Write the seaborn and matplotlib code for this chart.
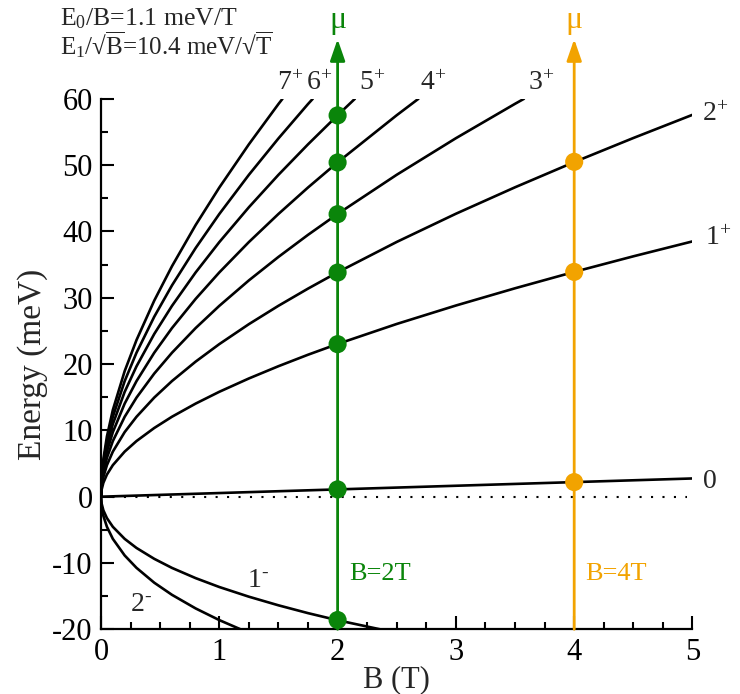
import numpy as np
import pandas as pd
import matplotlib
matplotlib.use("Agg")
import matplotlib.pyplot as plt
import seaborn as sns

# Landau levels (B in T, E in meV)
B_0 = [0, 1, 2, 3, 4, 5]
E_0 = [0, 0.55, 1.1, 1.65, 2.2, 2.75]

B_1p = [0, 0.005, 0.02, 0.05, 0.1, 0.2, 0.3, 0.45, 0.6, 0.8, 1.0, 1.25, 1.5, 1.75, 2.0, 2.5, 3.0, 3.5, 4.0, 4.5, 5.0]
E_1p = [0, 1.05, 2.10, 3.34, 4.76, 6.80, 8.39, 10.36, 12.06, 14.04, 15.82, 17.83, 19.68, 21.41, 23.03, 26.05, 28.83, 31.43, 33.90, 36.25, 38.50]

B_2p = [0, 0.005, 0.02, 0.05, 0.1, 0.2, 0.3, 0.45, 0.6, 0.8, 1.0, 1.25, 1.5, 1.75, 2.0, 2.5, 3.0, 3.5, 4.0, 4.5, 5.0]
E_2p = [0, 1.48, 2.99, 4.76, 6.80, 9.74, 12.05, 14.95, 17.44, 20.37, 23.01, 26.02, 28.79, 31.38, 33.84, 38.42, 42.67, 46.66, 50.46, 54.09, 57.59]

B_3p = [0, 0.005, 0.02, 0.05, 0.1, 0.2, 0.3, 0.45, 0.6, 0.8, 1.0, 1.25, 1.5, 1.75, 2.0, 2.5, 3.0, 3.5, 3.575]
E_3p = [0, 1.82, 3.67, 5.86, 8.39, 12.05, 14.94, 18.57, 21.71, 25.43, 28.78, 32.62, 36.16, 39.49, 42.64, 48.55, 54.06, 59.25, 60.0]

B_4p = [0, 0.005, 0.02, 0.05, 0.1, 0.2, 0.3, 0.45, 0.6, 0.8, 1.0, 1.25, 1.5, 1.75, 2.0, 2.5, 2.683]
E_4p = [0, 2.10, 4.25, 6.80, 9.74, 14.04, 17.43, 21.71, 25.43, 29.83, 33.82, 38.40, 42.64, 46.63, 50.42, 57.53, 60.0]

B_5p = [0, 0.005, 0.02, 0.05, 0.1, 0.2, 0.3, 0.45, 0.6, 0.8, 1.0, 1.25, 1.5, 1.75, 2.0, 2.146]
E_5p = [0, 2.35, 4.76, 7.63, 10.95, 15.81, 19.66, 24.54, 28.78, 33.82, 38.39, 43.65, 48.54, 53.14, 57.52, 60.0]

B_6p = [0, 0.005, 0.02, 0.05, 0.1, 0.2, 0.3, 0.45, 0.6, 0.8, 1.0, 1.25, 1.5, 1.75, 1.79]
E_6p = [0, 2.58, 5.23, 8.39, 12.05, 17.43, 21.71, 27.14, 31.87, 37.50, 42.63, 48.54, 54.03, 59.22, 60.0]

B_7p = [0, 0.005, 0.02, 0.05, 0.1, 0.2, 0.3, 0.45, 0.6, 0.8, 1.0, 1.25, 1.5, 1.534]
E_7p = [0, 2.79, 5.66, 9.09, 13.08, 18.94, 23.62, 29.57, 34.76, 40.97, 46.62, 53.14, 59.22, 60.0]

B_1m = [0, 0.005, 0.02, 0.05, 0.1, 0.2, 0.3, 0.45, 0.6, 0.8, 1.0, 1.25, 1.5, 1.75, 2.0, 2.36]
E_1m = [0, -1.03, -2.06, -3.23, -4.54, -6.36, -7.73, -9.37, -10.74, -12.28, -13.62, -15.08, -16.38, -17.56, -18.63, -20.0]

B_2m = [0, 0.005, 0.02, 0.05, 0.1, 0.2, 0.3, 0.45, 0.6, 0.8, 1.0, 1.18]
E_2m = [0, -1.46, -2.90, -4.54, -6.36, -8.86, -10.73, -12.97, -14.80, -16.85, -18.61, -20.0]

# occupied levels at the two fields
mu_B2_E = [1.1, 23.0, 33.8, 42.6, 50.4, 57.5, -18.6]
mu_B4_E = [2.2, 33.9, 50.5]

GREEN = "#0a850a"
ORANGE = "#f2a300"

curves = {
    "0": (B_0, E_0), "1+": (B_1p, E_1p), "2+": (B_2p, E_2p), "3+": (B_3p, E_3p),
    "4+": (B_4p, E_4p), "5+": (B_5p, E_5p), "6+": (B_6p, E_6p), "7+": (B_7p, E_7p),
    "1-": (B_1m, E_1m), "2-": (B_2m, E_2m),
}
df = pd.concat([pd.DataFrame({"B": b, "E": e, "level": name}) for name, (b, e) in curves.items()],
               ignore_index=True)

sns.set_style("ticks")
plt.rcParams["font.family"] = ["Liberation Serif", "DejaVu Serif"]
plt.rcParams["mathtext.fontset"] = "custom"
plt.rcParams["mathtext.rm"] = "Liberation Serif"
plt.rcParams["mathtext.it"] = "Liberation Serif:italic"
plt.rcParams["mathtext.bf"] = "Liberation Serif:bold"
plt.rcParams["mathtext.fallback"] = "stix"
plt.rcParams["axes.unicode_minus"] = False

fig = plt.figure(figsize=(7.4, 6.94), dpi=100)
ax = fig.add_axes([0.1365, 0.0932, 0.7993, 0.7644])

sns.lineplot(data=df, x="B", y="E", units="level", estimator=None, color="black",
             linewidth=1.9, sort=False, ax=ax, zorder=2)

# E = 0 reference
ax.plot([0, 4.95], [0, 0], color="black", linestyle=(0, (1, 4.5)), linewidth=1.5, zorder=1)

# chemical potential arrows
for b0, col in [(2, GREEN), (4, ORANGE)]:
    ax.annotate("", xy=(b0, 69.0), xytext=(b0, -20),
                arrowprops=dict(arrowstyle="-|>,head_length=1.3,head_width=0.45",
                                color=col, lw=2.0, shrinkA=0, shrinkB=0),
                annotation_clip=False, zorder=3)
    ax.text(b0, 69.6, "μ", color=col, fontsize=23, ha="center", va="bottom", clip_on=False)

sns.scatterplot(x=[2] * len(mu_B2_E), y=mu_B2_E, color=GREEN, s=170, edgecolor="none",
                ax=ax, zorder=4, clip_on=False)
sns.scatterplot(x=[4] * len(mu_B4_E), y=mu_B4_E, color=ORANGE, s=170, edgecolor="none",
                ax=ax, zorder=4, clip_on=False)

ax.text(2.096, -12.6, "B=2T", color=GREEN, fontsize=19, ha="left", va="baseline")
ax.text(4.09, -12.6, "B=4T", color=ORANGE, fontsize=19, ha="left", va="baseline")

# level labels
labels = [
    (1.488, 61.4, r"7$^{+}$"), (1.733, 61.4, r"6$^{+}$"), (2.18, 61.4, r"5$^{+}$"),
    (2.70, 61.4, r"4$^{+}$"), (3.61, 61.4, r"3$^{+}$"), (5.08, 56.7, r"2$^{+}$"),
    (5.105, 38.0, r"1$^{+}$"), (5.09, 1.3, "0"), (1.234, -13.6, r"1$^{\text{-}}$"),
    (0.245, -17.3, r"2$^{\text{-}}$"),
]
for x, y, t in labels:
    ax.text(x, y, t, fontsize=20, ha="left", va="baseline", clip_on=False)

fig.text(60 / 740, 1 - 25 / 694, r"E$_0$/B=1.1 meV/T", fontsize=18.5, ha="left", va="baseline")
fig.text(60 / 740, 1 - 54 / 694,
         r"E$_1$/$√\overline{\mathrm{B}}$=10.4 meV/$√\overline{\mathrm{T}}$",
         fontsize=18, ha="left", va="baseline")

ax.set_xlim(0, 5)
ax.set_ylim(-20, 60)
ax.set_xticks(np.arange(0, 6, 1))
ax.set_xticks(np.arange(0, 5.01, 0.25), minor=True)
ax.set_yticks(np.arange(-20, 61, 10))
ax.set_yticks(np.arange(-20, 61, 5), minor=True)
ax.tick_params(which="both", direction="in", width=1.5, labelsize=22, colors="black")
ax.tick_params(which="major", length=9.5, pad=6)
ax.tick_params(which="minor", length=5)
ax.set_xlabel("B (T)", fontsize=22, labelpad=-1)
ax.set_ylabel("Energy (meV)", fontsize=24, labelpad=3)
for side in ["top", "right"]:
    ax.spines[side].set_visible(False)
for side in ["left", "bottom"]:
    ax.spines[side].set_linewidth(1.6)
    ax.spines[side].set_color("black")

fig.savefig("out.png", dpi=100)
